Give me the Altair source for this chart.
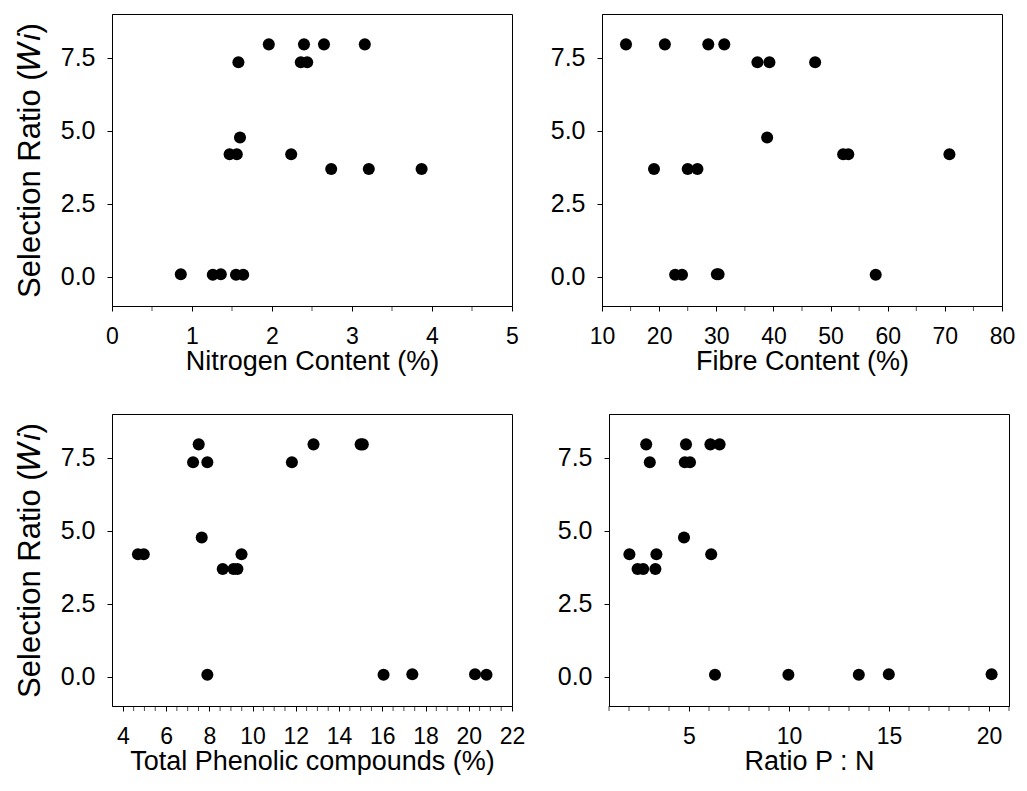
import altair as alt
import pandas as pd

# Selection ratio (Wi) for each species, grouped by level
sel_ratio = [7.96, 7.96, 7.96, 7.96,
             7.35, 7.35, 7.35,
             4.77,
             4.20, 4.20, 4.20,
             3.69, 3.69, 3.69,
             0.09, 0.07, 0.09, 0.07, 0.07]

nitrogen = [1.96, 2.40, 2.65, 3.16,
            1.58, 2.36, 2.44,
            1.60,
            1.47, 1.56, 2.24,
            2.74, 3.21, 3.87,
            0.86, 1.26, 1.36, 1.55, 1.64]

fibre = [14.2, 21.0, 28.6, 31.4,
         37.2, 39.3, 47.3,
         38.9,
         52.2, 53.1, 70.8,
         19.1, 25.0, 26.7,
         30.1, 22.8, 30.4, 24.0, 57.9]

phenolic = [7.51, 12.82, 15.0, 15.1,
            7.25, 7.91, 11.82,
            7.65,
            4.70, 4.97, 9.49,
            8.62, 9.12, 9.30,
            17.39, 16.06, 20.29, 7.91, 20.82]

ratio_pn = [2.86, 4.85, 6.07, 6.53,
            3.04, 4.79, 5.05,
            4.75,
            2.02, 3.37, 6.11,
            2.43, 2.71, 3.32,
            14.99, 6.30, 20.13, 9.97, 13.49]

y_ticks = [0, 2.5, 5, 7.5]

nitrogen_major = [0, 1, 2, 3, 4, 5]
nitrogen_minor = [0.5, 1.5, 2.5, 3.5, 4.5]
fibre_major = [10, 20, 30, 40, 50, 60, 70, 80]
fibre_minor = [15, 25, 35, 45, 55, 65, 75]
phenolic_major = [4, 6, 8, 10, 12, 14, 16, 18, 20, 22]
phenolic_minor = [4.5, 5, 5.5, 6.5, 7, 7.5, 8.5, 9, 9.5, 10.5, 11, 11.5,
                  12.5, 13, 13.5, 14.5, 15, 15.5, 16.5, 17, 17.5, 18.5,
                  19, 19.5, 20.5, 21, 21.5]
ratio_major = [5, 10, 15, 20]
ratio_minor = [1, 2, 3, 4, 6, 7, 8, 9, 11, 12, 13, 14, 16, 17, 18, 19, 21]

YTITLE = "Selection Ratio (\U0001D44A\U0001D456)"
W, H = 400, 292


def panel(xvals, xtitle, domain, major, minor, ytitle):
    df = pd.DataFrame({"x": xvals, "y": sel_ratio})
    xscale = alt.Scale(domain=domain, nice=False, zero=False)
    yaxis = alt.Axis(values=y_ticks, format=".1f", grid=False,
                     title=ytitle if ytitle else None)
    pts = alt.Chart(df).mark_circle(size=145, color="black", opacity=1).encode(
        x=alt.X("x:Q", scale=xscale,
                axis=alt.Axis(values=major, format=".0f", grid=False, title=xtitle)),
        y=alt.Y("y:Q", scale=alt.Scale(domain=[-1, 9], nice=False), axis=yaxis),
    )
    minor_ticks = alt.Chart(pd.DataFrame({"t": minor})).mark_tick(
        color="black", thickness=1, size=5, clip=False, orient="vertical"
    ).encode(
        x=alt.X("t:Q", scale=xscale),
        y=alt.value(H + 2.5),
    )
    return alt.layer(pts, minor_ticks).properties(width=W, height=H)


p1 = panel(nitrogen, "Nitrogen Content (%)", [0, 5], nitrogen_major, nitrogen_minor, YTITLE)
p2 = panel(fibre, "Fibre Content (%)", [10, 80], fibre_major, fibre_minor, None)
p3 = panel(phenolic, "Total Phenolic compounds (%)", [3.5, 22], phenolic_major, phenolic_minor, YTITLE)
p4 = panel(ratio_pn, "Ratio P : N", [1, 21], ratio_major, ratio_minor, None)

chart = alt.vconcat(
    alt.hconcat(p1, p2, spacing=30),
    alt.hconcat(p3, p4, spacing=30),
    spacing=38,
).configure(
    font="Liberation Sans",
    padding={"left": 5, "top": 5, "right": 0, "bottom": 0},
).configure_view(
    stroke="black", strokeWidth=1
).configure_axis(
    domainColor="black", tickColor="black", labelColor="black", titleColor="black",
    labelFont="Liberation Sans", titleFont="Liberation Sans",
    titleFontWeight="normal", labelFlush=False, labelOverlap=False,
    tickSize=5, domainWidth=1, tickWidth=1,
).configure_axisX(
    labelFontSize=23, labelPadding=14,
    titleFontSize=27, titlePadding=0,
).configure_axisY(
    labelFontSize=25, labelPadding=12, titlePadding=14, titleFontSize=31,
)

chart.save("out.html", embed_options={"renderer": "svg", "actions": False})
